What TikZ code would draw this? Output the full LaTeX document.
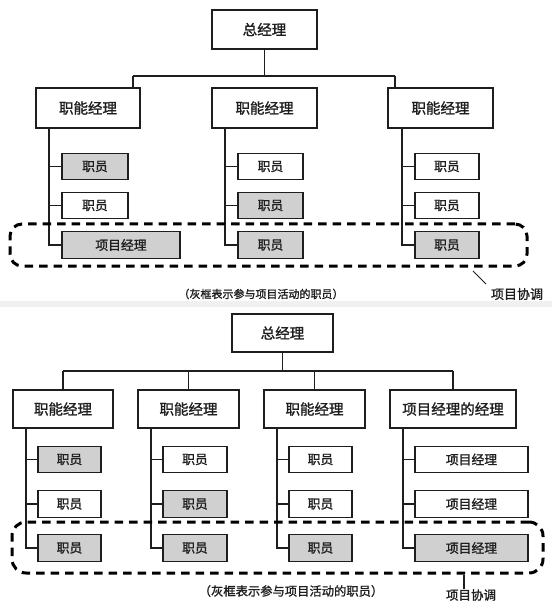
\documentclass[tikz,border=0pt]{standalone}
\usepackage{fontspec}
\newfontfamily\cjk[FakeBold=1.3]{Noto Sans CJK SC}
\definecolor{boxgray}{RGB}{208,208,208}
\definecolor{ink}{RGB}{30,30,30}
\definecolor{band}{RGB}{240,240,240}
\begin{document}
\begin{tikzpicture}[x=1pt,y=-1pt,
  base/.style={draw=ink,line width=1.4pt,inner sep=0pt,font=\cjk,text=ink},
  gmbox/.style={base,fill=white,font=\cjk\fontsize{14.5}{16}\selectfont},
  fmbox/.style={base,fill=white,minimum height=40,font=\cjk\fontsize{14.5}{16}\selectfont},
  embox/.style={base,fill=white,minimum height=26.5,font=\cjk\fontsize{12.8}{14}\selectfont},
  grbox/.style={embox,fill=boxgray},
  conn/.style={draw=ink,line width=1.2pt},
  grp/.style={draw=black,line width=3pt,dash pattern=on 8.5pt off 6pt,rounded corners=12pt,inner sep=0pt},
  caption/.style={inner sep=0pt,text=ink,font=\cjk\fontsize{11}{13}\selectfont},
  lbl/.style={inner sep=0pt,text=ink,font=\cjk\fontsize{13}{15}\selectfont}
]
\useasboundingbox (0,0) rectangle (552,601);
\fill[white] (0,0) rectangle (552,601);
\fill[band] (0,301) rectangle (552,307);

% ---------------- top diagram ----------------
\node[gmbox,minimum width=105,minimum height=39] (gm1) at (264.5,29.5) {总经理};
\node[fmbox,minimum width=104] (fm11) at (88,108) {职能经理};
\node[fmbox,minimum width=105] (fm12) at (264.5,108) {职能经理};
\node[fmbox,minimum width=105] (fm13) at (440.5,108) {职能经理};
\coordinate (busL1) at (133,76);
\coordinate (busR1) at (395,76);
\draw[conn] (gm1.south) -- (gm1.south |- busL1);
\draw[conn] (busL1) -- (busR1);
\draw[conn] (busL1) -- (busL1 |- fm11.north);
\draw[conn] (busR1) -- (busR1 |- fm13.north);

\node[grbox,minimum width=66] (e111) at (95,166.5) {职员};
\node[embox,minimum width=66] (e112) at (95,205.5) {职员};
\node[grbox,minimum width=118] (e113) at (121,245) {项目经理};
\node[embox,minimum width=65] (e121) at (270.5,166.5) {职员};
\node[grbox,minimum width=65] (e122) at (270.5,205.5) {职员};
\node[grbox,minimum width=65] (e123) at (270.5,245) {职员};
\node[embox,minimum width=64] (e131) at (447,166.5) {职员};
\node[embox,minimum width=64] (e132) at (447,205.5) {职员};
\node[grbox,minimum width=64] (e133) at (447,245) {职员};

\coordinate (c11) at (49,0);
\coordinate (c12) at (225,0);
\coordinate (c13) at (402,0);
\draw[conn] (fm11.south -| c11) |- (e113.west);
\draw[conn] (e111.west -| c11) -- (e111.west);
\draw[conn] (e112.west -| c11) -- (e112.west);
\draw[conn] (fm12.south -| c12) |- (e123.west);
\draw[conn] (e121.west -| c12) -- (e121.west);
\draw[conn] (e122.west -| c12) -- (e122.west);
\draw[conn] (fm13.south -| c13) |- (e133.west);
\draw[conn] (e131.west -| c13) -- (e131.west);
\draw[conn] (e132.west -| c13) -- (e132.west);

\node[grp,minimum width=517,minimum height=42] (grp1) at (268.5,245) {};
\node[caption] (cap1) at (261,294) {（灰框表示参与项目活动的职员）};
\node[lbl] (lbl1) at (517,294) {项目协调};
\coordinate (ld1a) at (473,271);
\coordinate (ld1b) at (486,284);
\draw[conn,line width=1pt] (ld1a) -- (ld1b);

% ---------------- bottom diagram ----------------
\node[gmbox,minimum width=101,minimum height=38] (gm2) at (282.5,333) {总经理};
\node[fmbox,minimum width=100,minimum height=38] (fm21) at (63,409) {职能经理};
\node[fmbox,minimum width=101,minimum height=38] (fm22) at (188.5,409) {职能经理};
\node[fmbox,minimum width=101,minimum height=38] (fm23) at (314.5,409) {职能经理};
\node[fmbox,minimum width=126,minimum height=38] (fm24) at (453,409) {项目经理的经理};
\coordinate (bus2) at (0,371);
\draw[conn] (gm2.south) -- (gm2.south |- bus2);
\draw[conn] (fm21.north |- bus2) -- (fm24.north |- bus2);
\draw[conn] (fm21.north |- bus2) -- (fm21.north);
\draw[conn] (fm22.north |- bus2) -- (fm22.north);
\draw[conn] (fm23.north |- bus2) -- (fm23.north);
\draw[conn] (fm24.north |- bus2) -- (fm24.north);

\node[grbox,minimum width=63] (e211) at (69.5,459.5) {职员};
\node[embox,minimum width=63] (e212) at (69.5,504) {职员};
\node[grbox,minimum width=63] (e213) at (69.5,548) {职员};
\node[embox,minimum width=64] (e221) at (195,459.5) {职员};
\node[grbox,minimum width=64] (e222) at (195,504) {职员};
\node[grbox,minimum width=64] (e223) at (195,548) {职员};
\node[embox,minimum width=63] (e231) at (320.5,459.5) {职员};
\node[embox,minimum width=63] (e232) at (320.5,504) {职员};
\node[grbox,minimum width=63] (e233) at (320.5,548) {职员};
\node[embox,minimum width=113] (e241) at (471.5,459.5) {项目经理};
\node[embox,minimum width=113] (e242) at (471.5,504) {项目经理};
\node[grbox,minimum width=113] (e243) at (471.5,548) {项目经理};

\coordinate (c21) at (26,0);
\coordinate (c22) at (151,0);
\coordinate (c23) at (277,0);
\coordinate (c24) at (403,0);
\draw[conn] (fm21.south -| c21) |- (e213.west);
\draw[conn] (e211.west -| c21) -- (e211.west);
\draw[conn] (e212.west -| c21) -- (e212.west);
\draw[conn] (fm22.south -| c22) |- (e223.west);
\draw[conn] (e221.west -| c22) -- (e221.west);
\draw[conn] (e222.west -| c22) -- (e222.west);
\draw[conn] (fm23.south -| c23) |- (e233.west);
\draw[conn] (e231.west -| c23) -- (e231.west);
\draw[conn] (e232.west -| c23) -- (e232.west);
\draw[conn] (fm24.south -| c24) |- (e243.west);
\draw[conn] (e241.west -| c24) -- (e241.west);
\draw[conn] (e242.west -| c24) -- (e242.west);

\node[grp,minimum width=531,minimum height=51,rounded corners=14pt] (grp2) at (277.5,547.5) {};
\node[caption,font=\cjk\fontsize{12.3}{14}\selectfont] (cap2) at (291,591) {（灰框表示参与项目活动的职员）};
\node[lbl,font=\cjk\fontsize{12.5}{14}\selectfont] (lbl2) at (471,595) {项目协调};
\coordinate (ld2) at (464,0);
\draw[conn,line width=1.2pt] (grp2.south -| ld2) -- (lbl2.north -| ld2);
\end{tikzpicture}
\end{document}
